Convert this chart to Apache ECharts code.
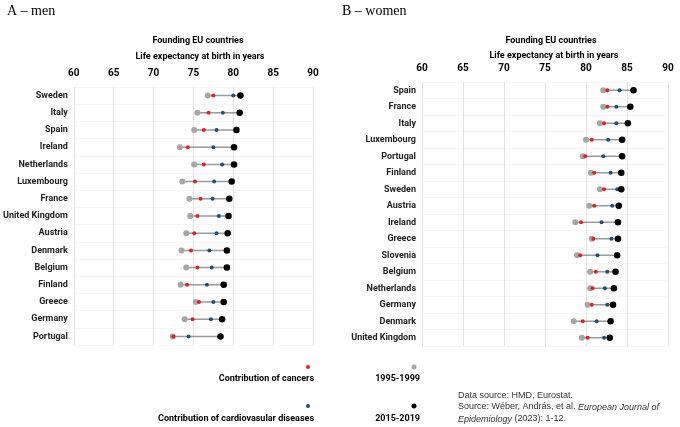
<!DOCTYPE html>
<html>
<head>
<meta charset="utf-8">
<script src="https://cdn.jsdelivr.net/npm/echarts@6/dist/echarts.min.js"></script>
<style>
  html, body { margin: 0; padding: 0; background: #fff; }
  #container { width: 680px; height: 427px; }
</style>
</head>
<body>
<div id="container"></div>
<script>
// men (A)
var menCountries = ['Sweden', 'Italy', 'Spain', 'Ireland', 'Netherlands', 'Luxembourg', 'France',
    'United Kingdom', 'Austria', 'Denmark', 'Belgium', 'Finland', 'Greece', 'Germany', 'Portugal'];
var men1995 = [76.8, 75.5, 75.1, 73.3, 75.1, 73.6, 74.5, 74.6, 74.1, 73.5, 74.1, 73.4, 75.3, 73.9, 72.4];
var menCancer = [77.5, 76.9, 76.3, 74.3, 76.3, 75.2, 75.9, 75.5, 75.1, 74.7, 75.5, 74.2, 75.7, 74.9, 72.5];
var menCvd = [80.0, 78.7, 77.9, 77.5, 78.6, 77.6, 77.4, 78.2, 77.9, 77.0, 77.3, 76.7, 77.5, 77.2, 74.4];
var men2015 = [80.9, 80.8, 80.4, 80.1, 80.1, 79.8, 79.5, 79.4, 79.3, 79.2, 79.2, 78.8, 78.8, 78.6, 78.4];

// women (B)
var womenCountries = ['Spain', 'France', 'Italy', 'Luxembourg', 'Portugal', 'Finland', 'Sweden', 'Austria',
    'Ireland', 'Greece', 'Slovenia', 'Belgium', 'Netherlands', 'Germany', 'Denmark', 'United Kingdom'];
var women1995 = [82.1, 82.1, 81.7, 80.0, 79.6, 80.6, 81.7, 80.4, 78.7, 80.7, 78.9, 80.5, 80.5, 80.2, 78.5, 79.5];
var womenCancer = [82.6, 82.6, 82.2, 80.7, 79.9, 81.0, 82.2, 81.0, 79.4, 80.9, 79.3, 81.2, 80.8, 80.7, 79.6, 80.2];
var womenCvd = [84.1, 83.7, 83.7, 82.7, 82.1, 83.0, 83.8, 83.2, 81.9, 83.1, 81.4, 82.6, 82.3, 82.6, 81.3, 82.2];
var women2015 = [85.8, 85.4, 85.1, 84.4, 84.4, 84.3, 84.3, 84.0, 83.9, 83.9, 83.8, 83.6, 83.4, 83.3, 83.0, 82.9];

var axisMin = 60, axisMax = 90, axisStep = 5;

var cGray = '#a6a6a6', cRed = '#dd2222', cBlue = '#1f4e79', cBlack = '#000000';
var labelFont = 'Roboto';

function panelSeries(idx, cats, v95, vCan, vCvd, v15) {
    function pts(arr) {
        return arr.map(function (v, i) { return [v, cats[i]]; });
    }
    var dot = function (name, arr, color, size) {
        return {
            name: name, type: 'scatter', xAxisIndex: idx, yAxisIndex: idx,
            data: pts(arr), symbolSize: size, itemStyle: { color: color, opacity: 1 },
            silent: true, z: 3
        };
    };
    return [
        {
            type: 'custom', xAxisIndex: idx, yAxisIndex: idx, silent: true, z: 2,
            data: cats.map(function (c, i) { return [i, v95[i], v15[i]]; }),
            encode: { x: [1, 2], y: 0 },
            renderItem: function (params, api) {
                var y = api.value(0);
                var p1 = api.coord([api.value(1), y]);
                var p2 = api.coord([api.value(2), y]);
                return {
                    type: 'line',
                    shape: { x1: p1[0], y1: p1[1], x2: p2[0], y2: p2[1] },
                    style: { stroke: '#9a9a9a', lineWidth: 1.5 }
                };
            }
        },
        dot('1995-1999', v95, cGray, 6),
        dot('Contribution of cancers', vCan, cRed, 4),
        dot('Contribution of cardiovasular diseases', vCvd, cBlue, 4),
        dot('2015-2019', v15, cBlack, 6.5)
    ];
}

function xAxis(idx) {
    return {
        gridIndex: idx, type: 'value', position: 'top',
        min: axisMin, max: axisMax, interval: axisStep,
        axisLine: { show: false }, axisTick: { show: false },
        axisLabel: { margin: 9, fontFamily: labelFont, fontWeight: 'bold', fontSize: 10, color: '#000' },
        splitLine: { lineStyle: { color: '#e4e4e4', width: 1 } }
    };
}

function yAxis(idx, cats) {
    return {
        gridIndex: idx, type: 'category', data: cats, inverse: true,
        axisLine: { show: false }, axisTick: { show: false },
        axisLabel: { margin: 6, fontFamily: labelFont, fontWeight: 'bold', fontSize: 9, color: '#222' },
        splitLine: { show: true, lineStyle: { color: '#f6f6f6', width: 1 } }
    };
}

function txt(x, y, text, opts) {
    var st = {
        text: text, x: 0, y: 0,
        font: (opts.weight || 'normal') + ' ' + (opts.size || 10) + 'px ' + (opts.family || labelFont),
        fill: opts.color || '#000',
        textAlign: opts.align || 'left', textVerticalAlign: 'middle'
    };
    if (opts.rich) st.rich = opts.rich;
    return { type: 'text', x: x, y: y, style: st, silent: true };
}

function legendDot(x, y, color, r) {
    return { type: 'circle', x: x, y: y, shape: { cx: 0, cy: 0, r: r }, style: { fill: color }, silent: true };
}

var dom = document.getElementById('container');
var myChart = echarts.init(dom, null, { renderer: 'canvas' });
var option = {
    animation: false,
    backgroundColor: '#fff',
    grid: [
        { left: 70, width: 243, top: 87, height: 258 },
        { left: 422, width: 246, top: 82, height: 264 }
    ],
    xAxis: [xAxis(0), xAxis(1)],
    yAxis: [yAxis(0, menCountries), yAxis(1, womenCountries)],
    series: panelSeries(0, menCountries, men1995, menCancer, menCvd, men2015)
        .concat(panelSeries(1, womenCountries, women1995, womenCancer, womenCvd, women2015)),
    graphic: [
        txt(7, 11, 'A – men', { family: 'Liberation Serif', size: 14 }),
        txt(342, 11, 'B – women', { family: 'Liberation Serif', size: 14 }),
        txt(198, 41, 'Founding EU countries', { weight: 'bold', size: 9, align: 'center' }),
        txt(200, 57, 'Life expectancy at birth in years', { weight: 'bold', size: 9, align: 'center' }),
        txt(551, 41, 'Founding EU countries', { weight: 'bold', size: 9, align: 'center' }),
        txt(554, 56, 'Life expectancy at birth in years', { weight: 'bold', size: 9, align: 'center' }),
        // legend
        legendDot(308, 367, cRed, 2),
        txt(314, 379, 'Contribution of cancers', { weight: 'bold', size: 9, align: 'right' }),
        legendDot(414, 367, cGray, 2.5),
        txt(420, 379, '1995-1999', { weight: 'bold', size: 9, align: 'right' }),
        legendDot(308, 406, cBlue, 2),
        txt(314, 419, 'Contribution of cardiovasular diseases', { weight: 'bold', size: 9, align: 'right' }),
        legendDot(414, 406, cBlack, 2.5),
        txt(420, 419, '2015-2019', { weight: 'bold', size: 9, align: 'right' }),
        // source
        txt(458, 396, 'Data source: HMD, Eurostat.', { family: 'Liberation Sans', size: 9, color: '#333' }),
        txt(458, 407, 'Source: Wéber, András, et al. {i|European Journal of}',
            { family: 'Liberation Sans', size: 9, color: '#333',
              rich: { i: { fontStyle: 'italic', fontFamily: 'Liberation Sans', fontSize: 9, fill: '#333' } } }),
        txt(458, 419, '{i|Epidemiology} (2023): 1-12.',
            { family: 'Liberation Sans', size: 9, color: '#333',
              rich: { i: { fontStyle: 'italic', fontFamily: 'Liberation Sans', fontSize: 9, fill: '#333' } } })
    ]
};
if (option && typeof option === 'object') {
    myChart.setOption(option, true);
}
</script>
</body>
</html>
